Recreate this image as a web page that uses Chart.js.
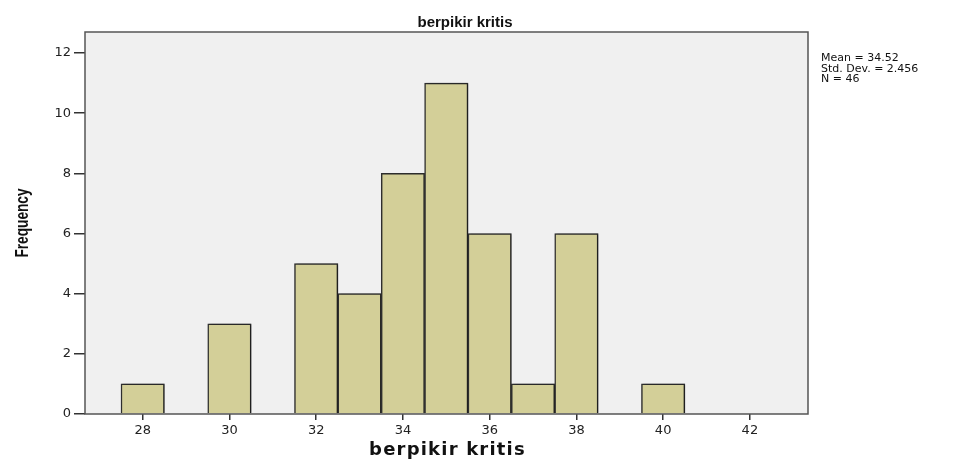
<!DOCTYPE html>
<html>
<head>
<meta charset="utf-8">
<script src="https://cdn.jsdelivr.net/npm/chart.js@4.4.1/dist/chart.umd.min.js"></script>
<style>
  html, body { margin: 0; padding: 0; background: #ffffff; }
  #wrap { width: 968px; height: 459px; position: relative; }
</style>
</head>
<body>
<div id="wrap"><canvas id="hist"></canvas></div>
<script>
// data
const binCenters = [28, 30, 32, 33, 34, 35, 36, 37, 38, 40];
const frequencies = [1, 3, 5, 4, 8, 11, 6, 1, 6, 1];
const xTickValues = [28, 30, 32, 34, 36, 38, 40, 42];
const yTickValues = [0, 2, 4, 6, 8, 10, 12];
const statLines = ["Mean = 34.52", "Std. Dev. = 2.456", "N = 46"];
const chartTitle = "berpikir kritis";
const xTitle = "berpikir kritis";
const yTitle = "Frequency";

const tickFont = { family: "'DejaVu Sans', sans-serif", size: 13 };

// SPSS look: grey plot area, frame, bar shadow, titles, stats box
const spssFrame = {
  id: "spssFrame",
  beforeDatasetsDraw(chart) {
    const { ctx, chartArea: a } = chart;
    ctx.save();
    ctx.fillStyle = "#f0f0f0";
    ctx.fillRect(a.left, a.top, a.right - a.left, a.bottom - a.top);
    ctx.restore();
  },
  beforeDatasetDraw(chart) {
    const ctx = chart.ctx;
    ctx.save();
    ctx.shadowColor = "rgba(0,0,0,0.35)";
    ctx.shadowOffsetX = 2;
    ctx.shadowOffsetY = 0;
    ctx.shadowBlur = 2;
  },
  afterDatasetDraw(chart) {
    chart.ctx.restore();
  },
  afterDraw(chart) {
    const { ctx, chartArea: a } = chart;
    ctx.save();
    ctx.strokeStyle = "#555";
    ctx.lineWidth = 1.5;
    ctx.strokeRect(a.left, a.top, a.right - a.left, a.bottom - a.top);

    ctx.fillStyle = "#111";
    ctx.textBaseline = "alphabetic";
    ctx.textAlign = "center";
    ctx.font = "bold 15px 'Liberation Sans', Arial, sans-serif";
    ctx.fillText(chartTitle, 465, 27);

    // x axis title, spaced out like the original
    ctx.save();
    ctx.font = "bold 18px 'DejaVu Sans', sans-serif";
    ctx.letterSpacing = "1.2px";
    ctx.fillText(xTitle, (a.left + a.right) / 2 + 1, 455);
    ctx.restore();

    // condensed, rotated y title
    ctx.save();
    ctx.translate(28, 223);
    ctx.rotate(-Math.PI / 2);
    ctx.scale(0.72, 1);
    ctx.font = "bold 19px 'Liberation Sans', Arial, sans-serif";
    ctx.fillText(yTitle, 0, 0);
    ctx.restore();

    ctx.textAlign = "left";
    ctx.font = "11px 'DejaVu Sans', sans-serif";
    statLines.forEach((t, i) => ctx.fillText(t, a.right + 13, 61 + i * 10.5));
    ctx.restore();
  },
};

new Chart(document.getElementById("hist"), {
  type: "bar",
  data: {
    datasets: [
      {
        data: binCenters.map((c, i) => ({ x: c, y: frequencies[i] })),
        backgroundColor: "#d3cf98",
        borderColor: "#2e2e2e",
        borderWidth: 1.5,
        barPercentage: 1,
        categoryPercentage: 1,
      },
    ],
  },
  options: {
    responsive: true,
    maintainAspectRatio: false,
    animation: false,
    layout: { padding: { left: 0, right: 160, top: 32, bottom: 0 } },
    plugins: {
      legend: { display: false },
      tooltip: { enabled: false },
      title: { display: false },
    },
    scales: {
      x: {
        type: "linear",
        min: 26.67,
        max: 43.34,
        offset: false,
        afterBuildTicks: (s) => { s.ticks = xTickValues.map((v) => ({ value: v })); },
        afterFit: (s) => { s.height = 45; },
        ticks: { color: "#222", font: tickFont, padding: 3, maxRotation: 0 },
        grid: { offset: false, drawOnChartArea: false, drawTicks: true, tickLength: 6, color: "#333", lineWidth: 1.5 },
        border: { display: false },
      },
      y: {
        min: 0,
        max: 12.7,
        afterBuildTicks: (s) => { s.ticks = yTickValues.map((v) => ({ value: v })); },
        afterFit: (s) => { s.width = 85; },
        ticks: { color: "#222", font: tickFont, padding: 3 },
        grid: { drawOnChartArea: false, drawTicks: true, tickLength: 11, color: "#333", lineWidth: 1.5 },
        border: { display: false },
      },
    },
  },
  plugins: [spssFrame],
});
</script>
</body>
</html>
